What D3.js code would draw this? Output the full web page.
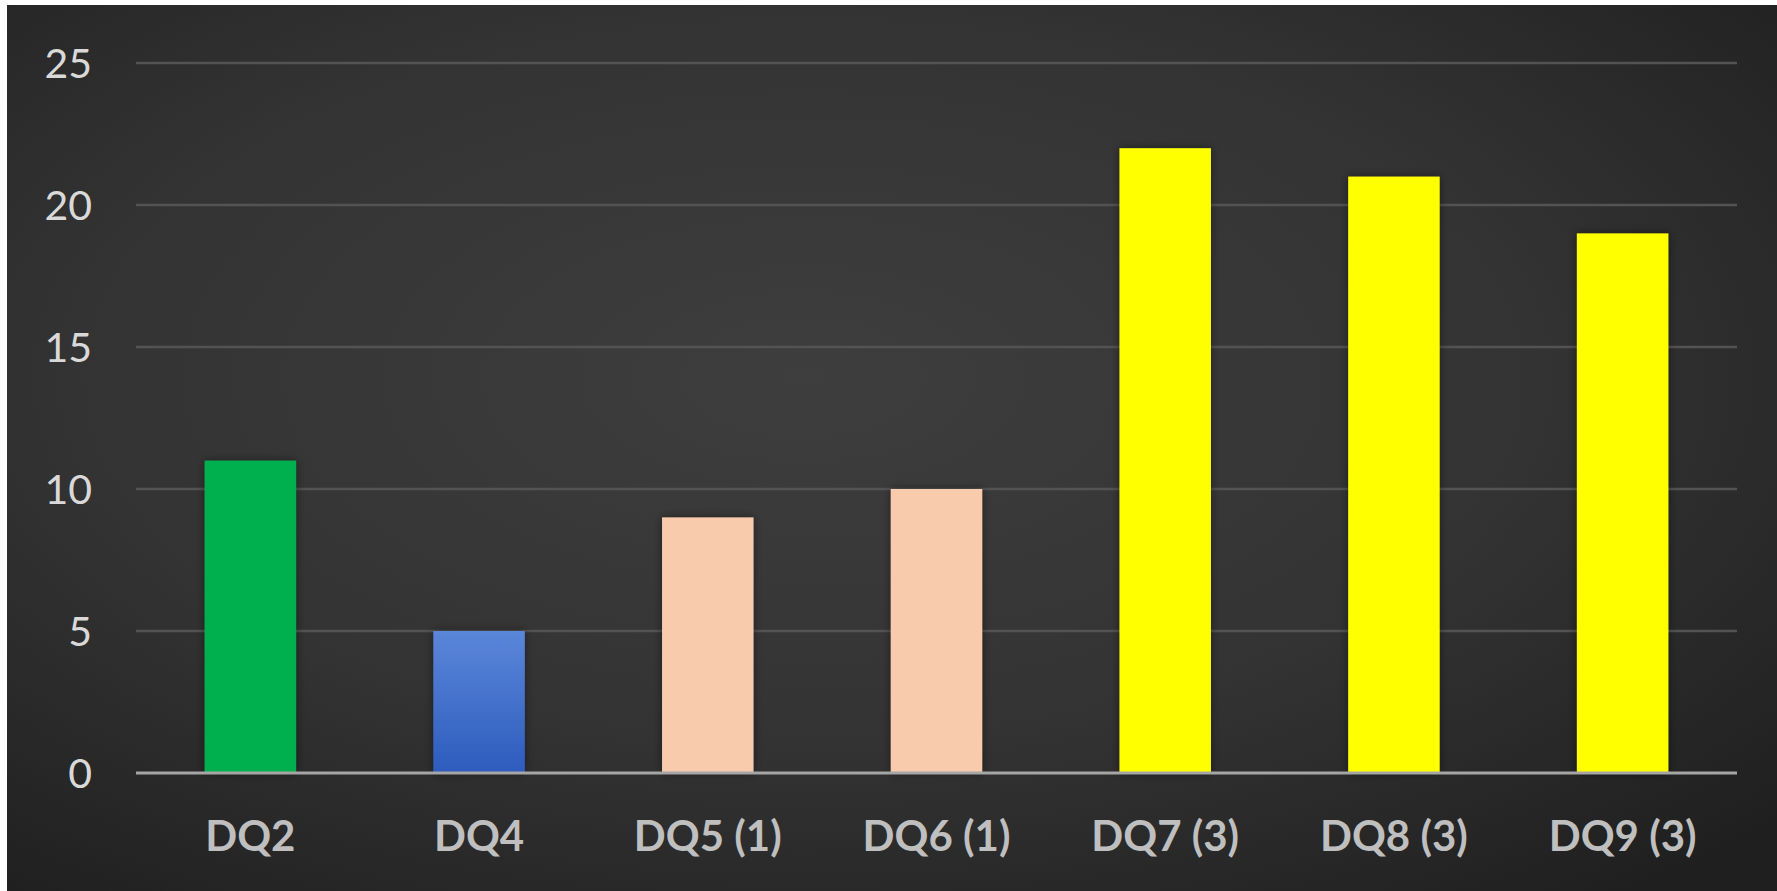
<!DOCTYPE html>
<html><head><meta charset="utf-8">
<script src="https://cdn.jsdelivr.net/npm/d3@7"></script>
<style>html,body{margin:0;padding:0;background:#fff;overflow:hidden}</style>
</head><body>
<svg id="c" width="1777" height="891"></svg>
<script>
const categories = ["DQ2","DQ4","DQ5 (1)","DQ6 (1)","DQ7 (3)","DQ8 (3)","DQ9 (3)"];
const values = [11,5,9,10,22,21,19];
const colors = ["#00b050","url(#blueGrad)","#f8cbad","#f8cbad","#ffff00","#ffff00","#ffff00"];
const yTicks = [0,5,10,15,20,25];

(function(){
const svg = d3.select("#c");
const defs = svg.append("defs");
const rg = defs.append("radialGradient").attr("id","bg").attr("cx","0.45").attr("cy","0.42").attr("r","0.75");
rg.append("stop").attr("offset","0").attr("stop-color","#3e3e3e");
rg.append("stop").attr("offset","0.55").attr("stop-color","#333333");
rg.append("stop").attr("offset","1").attr("stop-color","#1f1f1f");
const bg = defs.append("linearGradient").attr("id","blueGrad").attr("x1",0).attr("y1",0).attr("x2",0).attr("y2",1);
bg.append("stop").attr("offset","0").attr("stop-color","#5b86d9");
bg.append("stop").attr("offset","1").attr("stop-color","#2d5cbd");
const f = defs.append("filter").attr("id","sh").attr("x","-30%").attr("y","-10%").attr("width","160%").attr("height","120%");
f.append("feDropShadow").attr("dx",0).attr("dy",0).attr("stdDeviation",5).attr("flood-color","#000").attr("flood-opacity",0.45);

svg.append("rect").attr("x",7).attr("y",5).attr("width",1770).attr("height",886).attr("fill","url(#bg)");

const pL = 136, pR = 1737, pT = 63, pB = 773;
const x = d3.scaleBand().domain(categories).range([pL,pR]).paddingInner(0.6).paddingOuter(0.3);
const y = d3.scaleLinear().domain([0,25]).range([pB,pT]);

svg.append("g").selectAll("line").data(yTicks.filter(d=>d>0)).join("line")
  .attr("x1",pL).attr("x2",pR).attr("y1",d=>y(d)).attr("y2",d=>y(d))
  .attr("stroke","#535353").attr("stroke-width",2.5);

svg.append("g").selectAll("text").data(yTicks).join("text")
  .attr("x",92).attr("y",d=>y(d)).attr("dy","0.36em").attr("text-anchor","end")
  .attr("fill","#d9d9d9").attr("font-family","Lato, 'Open Sans', sans-serif").attr("font-size",41)
  .text(d=>d);

svg.append("g").selectAll("rect").data(categories).join("rect")
  .attr("x",d=>x(d)).attr("width",x.bandwidth())
  .attr("y",(d,i)=>y(values[i])).attr("height",(d,i)=>y(0)-y(values[i]))
  .attr("fill",(d,i)=>colors[i]).attr("filter","url(#sh)");

svg.append("line").attr("x1",pL).attr("x2",pR).attr("y1",y(0)).attr("y2",y(0))
  .attr("stroke","#a6a6a6").attr("stroke-width",3);

svg.append("g").selectAll("text").data(categories).join("text")
  .attr("x",d=>x(d)+x.bandwidth()/2).attr("y",836).attr("dy","0.36em").attr("text-anchor","middle")
  .attr("fill","#bfbfbf").attr("font-family","Lato, 'Open Sans', sans-serif").attr("font-weight","bold").attr("font-size",42)
  .text(d=>d);
})();
</script>
</body></html>
